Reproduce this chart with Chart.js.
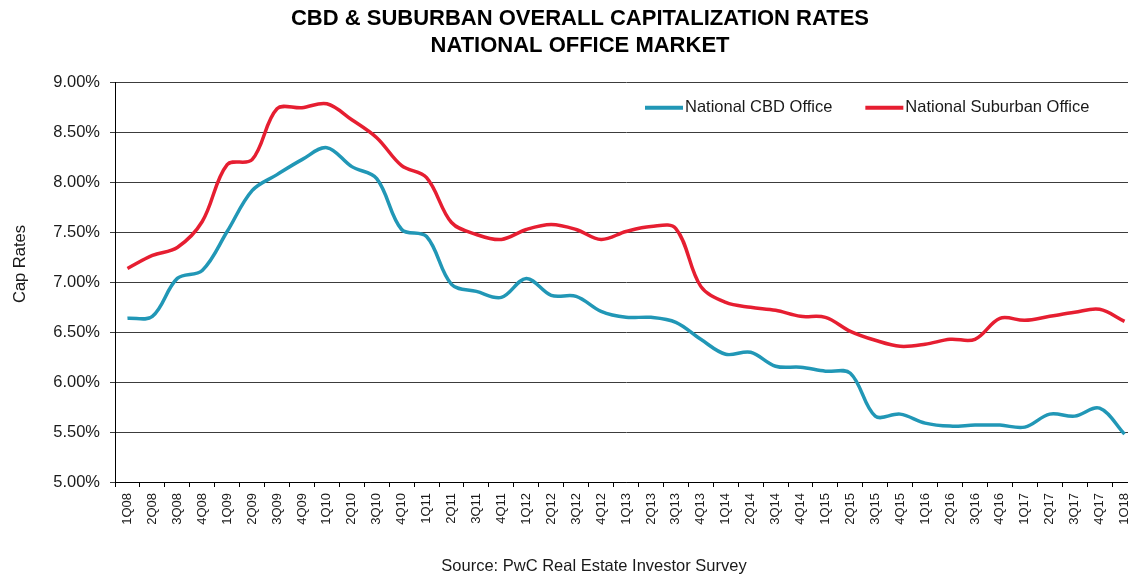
<!DOCTYPE html>
<html>
<head>
<meta charset="utf-8">
<script src="https://cdn.jsdelivr.net/npm/chart.js@4.4.1/dist/chart.umd.min.js"></script>
<style>
  html, body { margin: 0; padding: 0; background: #fff; overflow: hidden; }
  #wrap { width: 1137px; height: 575px; }
</style>
</head>
<body>
<div id="wrap"><canvas id="capChart" width="1137" height="575"></canvas></div>
<script>
const quarters = ['1Q08','2Q08','3Q08','4Q08','1Q09','2Q09','3Q09','4Q09','1Q10','2Q10','3Q10','4Q10',
  '1Q11','2Q11','3Q11','4Q11','1Q12','2Q12','3Q12','4Q12','1Q13','2Q13','3Q13','4Q13',
  '1Q14','2Q14','3Q14','4Q14','1Q15','2Q15','3Q15','4Q15','1Q16','2Q16','3Q16','4Q16',
  '1Q17','2Q17','3Q17','4Q17','1Q18'];

// cap rates in %
const cbdRates = [6.64, 6.66, 7.04, 7.12, 7.51, 7.92, 8.08, 8.23, 8.35, 8.16, 8.04, 7.53,
  7.46, 6.98, 6.91, 6.85, 7.04, 6.87, 6.86, 6.71, 6.65, 6.65, 6.60, 6.43,
  6.28, 6.30, 6.16, 6.15, 6.11, 6.09, 5.66, 5.68, 5.59, 5.56, 5.57, 5.57,
  5.55, 5.68, 5.66, 5.74, 5.48];
const suburbanRates = [7.14, 7.27, 7.35, 7.61, 8.18, 8.23, 8.74, 8.75, 8.79, 8.63, 8.45, 8.17,
  8.05, 7.60, 7.48, 7.43, 7.53, 7.58, 7.53, 7.43, 7.51, 7.56, 7.54, 6.96,
  6.80, 6.75, 6.72, 6.66, 6.65, 6.51, 6.42, 6.36, 6.38, 6.43, 6.43, 6.64,
  6.62, 6.66, 6.70, 6.73, 6.61];

const yMin = 5, yMax = 9, yStep = 0.5;

const FONT = '"Liberation Sans", Arial, sans-serif';

// legend inside the plot, axis title and source line
const extras = {
  id: 'extras',
  afterDraw(chart) {
    const ctx = chart.ctx;
    const area = chart.chartArea;
    ctx.save();

    ctx.font = '16.5px ' + FONT;
    ctx.textBaseline = 'middle';
    ctx.textAlign = 'left';
    let x = area.left + 530;
    const y = area.top + 25;
    chart.data.datasets.forEach(ds => {
      ctx.strokeStyle = ds.borderColor;
      ctx.lineWidth = 4;
      ctx.beginPath();
      ctx.moveTo(x, y);
      ctx.lineTo(x + 38, y);
      ctx.stroke();
      ctx.fillStyle = '#1a1a1a';
      ctx.fillText(ds.label, x + 40, y);
      x += 40 + ctx.measureText(ds.label).width + 33;
    });

    ctx.font = '16.5px ' + FONT;
    ctx.fillStyle = '#1a1a1a';
    ctx.textAlign = 'center';
    ctx.translate(20, 264);
    ctx.rotate(-Math.PI / 2);
    ctx.fillText('Cap Rates', 0, 0);
    ctx.restore();

    ctx.save();
    ctx.font = '16.5px ' + FONT;
    ctx.fillStyle = '#1a1a1a';
    ctx.textAlign = 'center';
    ctx.textBaseline = 'middle';
    ctx.fillText('Source: PwC Real Estate Investor Survey', 594, 566);
    ctx.restore();
  }
};

new Chart(document.getElementById('capChart'), {
  type: 'line',
  data: {
    labels: quarters,
    datasets: [{
      label: 'National CBD Office',
      data: cbdRates,
      borderColor: '#2197b6',
      borderWidth: 3.5,
      pointRadius: 0,
      tension: 0.35,
      fill: false
    }, {
      label: 'National Suburban Office',
      data: suburbanRates,
      borderColor: '#e61e31',
      borderWidth: 3.5,
      pointRadius: 0,
      tension: 0.35,
      fill: false
    }]
  },
  options: {
    responsive: false,
    animation: false,
    layout: { padding: { left: 23, right: 0, top: 0, bottom: 18 } },
    plugins: {
      legend: { display: false },
      tooltip: { enabled: false },
      title: {
        display: true,
        text: ['CBD & SUBURBAN OVERALL CAPITALIZATION RATES', 'NATIONAL OFFICE MARKET'],
        color: '#000',
        font: { family: FONT, size: 22, weight: 'bold', lineHeight: 1.2 },
        padding: { top: 6, bottom: 24 }
      }
    },
    scales: {
      x: {
        offset: true,
        grid: { offset: true, drawOnChartArea: false, drawTicks: true, tickLength: 5, color: '#000' },
        border: { color: '#000', width: 1 },
        ticks: {
          autoSkip: false, maxRotation: 90, minRotation: 90, padding: 6,
          color: '#1a1a1a', font: { family: FONT, size: 13 }
        },
        afterFit: s => { s.height = 75; s.paddingLeft = 0; s.paddingRight = 0; }
      },
      y: {
        min: yMin, max: yMax,
        grid: { color: '#3c3c3c', lineWidth: 1, tickLength: 5 },
        border: { color: '#000', width: 1 },
        ticks: {
          stepSize: yStep, padding: 10, color: '#1a1a1a',
          font: { family: FONT, size: 16.5 },
          callback: v => v.toFixed(2) + '%'
        },
        afterFit: s => { s.width = 92; }
      }
    }
  },
  plugins: [extras]
});
</script>
</body>
</html>
